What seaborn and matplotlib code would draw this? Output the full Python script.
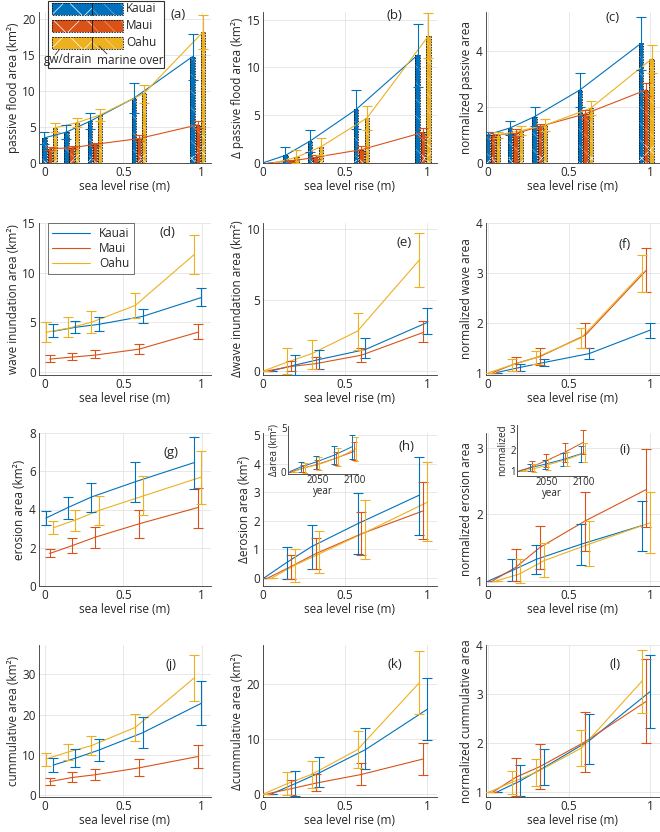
import numpy as np
import pandas as pd
import matplotlib
matplotlib.use("Agg")
import matplotlib.pyplot as plt
from matplotlib.patches import Rectangle
from matplotlib.lines import Line2D
import seaborn as sns

# ---------------- data ----------------
islands = ["Kauai", "Maui", "Oahu"]
slr = [0.03, 0.17, 0.32, 0.60, 0.975]          # sea level rise scenarios (m)
years = [2015, 2030, 2050, 2075, 2100]          # matching years (insets)

# (a) passive flood area (km2)
passive = {"Kauai": [3.5, 4.3, 5.8, 9.0, 14.8], "Maui": [2.0, 2.1, 2.6, 3.4, 5.3], "Oahu": [4.9, 5.6, 6.7, 9.7, 18.2]}
passive_hi = {"Kauai": [4.3, 5.3, 7.0, 11.1, 18.0], "Maui": [2.2, 2.4, 2.8, 3.9, 5.8], "Oahu": [5.5, 6.3, 7.5, 10.9, 20.6]}
passive_lo = {"Kauai": [2.7, 3.3, 4.7, 7.0, 11.5], "Maui": [1.8, 1.9, 2.3, 3.0, 4.8], "Oahu": [4.3, 5.0, 5.9, 8.4, 15.9]}
passive_gw = {"Kauai": [0.3, 0.4, 0.5, 0.8, 1.0], "Maui": [0.5, 0.6, 0.8, 1.0, 1.5], "Oahu": [0.8, 1.2, 1.5, 2.0, 4.2]}
# (b) change in passive flood area
d_passive = {"Kauai": [0, 0.8, 2.3, 5.6, 11.3], "Maui": [0, 0.2, 0.6, 1.4, 3.2], "Oahu": [0, 0.6, 1.7, 4.7, 13.3]}
d_passive_hi = {"Kauai": [0, 1.7, 3.5, 7.6, 14.5], "Maui": [0, 0.3, 0.8, 1.8, 3.7], "Oahu": [0, 1.4, 2.6, 6.0, 15.7]}
d_passive_lo = {"Kauai": [0, 0.0, 1.1, 3.6, 8.0], "Maui": [0, 0.1, 0.4, 1.0, 2.7], "Oahu": [0, 0.0, 0.8, 3.5, 11.0]}
d_passive_gw = {"Kauai": [0, 0.1, 0.2, 0.3, 0.5], "Maui": [0, 0.1, 0.2, 0.5, 1.0], "Oahu": [0, 0.2, 0.4, 0.8, 3.2]}
# (c) normalized passive area
n_passive = {"Kauai": [1.0, 1.25, 1.65, 2.6, 4.25], "Maui": [1.0, 1.05, 1.3, 1.75, 2.6], "Oahu": [1.0, 1.15, 1.35, 1.95, 3.7]}
n_passive_hi = {"Kauai": [1.1, 1.5, 2.0, 3.2, 5.2], "Maui": [1.1, 1.2, 1.4, 1.9, 2.85], "Oahu": [1.1, 1.3, 1.55, 2.2, 4.2]}
n_passive_lo = {"Kauai": [0.9, 1.0, 1.3, 2.0, 3.3], "Maui": [0.9, 0.95, 1.2, 1.6, 2.4], "Oahu": [0.9, 1.0, 1.15, 1.7, 3.2]}
n_passive_gw = {"Kauai": [0.2, 0.2, 0.25, 0.3, 0.25], "Maui": [0.2, 0.2, 0.3, 0.3, 0.8], "Oahu": [0.2, 0.25, 0.3, 0.45, 0.9]}
# (d) wave inundation area
wave = {"Kauai": [4.1, 4.5, 4.8, 5.6, 7.5], "Maui": [1.3, 1.5, 1.7, 2.3, 4.0], "Oahu": [4.0, 4.4, 5.0, 6.7, 11.8]}
wave_hi = {"Kauai": [4.8, 5.1, 5.5, 6.3, 8.5], "Maui": [1.7, 1.9, 2.2, 2.8, 4.8], "Oahu": [5.0, 5.5, 6.1, 8.0, 13.8]}
wave_lo = {"Kauai": [3.5, 3.9, 4.1, 4.9, 6.6], "Maui": [1.0, 1.2, 1.4, 1.8, 3.3], "Oahu": [3.0, 3.5, 3.9, 5.4, 9.9]}
# (e) change in wave inundation area
d_wave = {"Kauai": [0, 0.4, 0.8, 1.5, 3.4], "Maui": [0, 0.3, 0.5, 1.1, 2.7], "Oahu": [0, 0.6, 1.2, 2.8, 7.8]}
d_wave_hi = {"Kauai": [0, 1.1, 1.5, 2.3, 4.4], "Maui": [0, 0.7, 1.0, 1.6, 3.5], "Oahu": [0, 1.6, 2.2, 4.1, 9.7]}
d_wave_lo = {"Kauai": [0, -0.3, 0.1, 0.9, 2.6], "Maui": [0, 0.0, 0.1, 0.6, 2.0], "Oahu": [0, -0.2, 0.1, 1.5, 5.9]}
# (f) normalized wave area
n_wave = {"Kauai": [1.0, 1.1, 1.2, 1.38, 1.85], "Maui": [1.0, 1.18, 1.32, 1.75, 3.05], "Oahu": [1.0, 1.15, 1.3, 1.7, 3.0]}
n_wave_hi = {"Kauai": [1.0, 1.17, 1.27, 1.5, 2.0], "Maui": [1.0, 1.32, 1.5, 2.0, 3.5], "Oahu": [1.0, 1.27, 1.43, 1.9, 3.35]}
n_wave_lo = {"Kauai": [1.0, 1.03, 1.13, 1.27, 1.7], "Maui": [1.0, 1.03, 1.15, 1.5, 2.62], "Oahu": [1.0, 1.03, 1.17, 1.5, 2.62]}
# (g) erosion area
eros = {"Kauai": [3.55, 4.1, 4.65, 5.45, 6.45], "Maui": [1.7, 2.1, 2.55, 3.25, 4.1], "Oahu": [3.05, 3.45, 3.95, 4.7, 5.7]}
eros_hi = {"Kauai": [3.9, 4.65, 5.4, 6.5, 7.8], "Maui": [1.95, 2.5, 3.1, 4.0, 5.1], "Oahu": [3.4, 4.0, 4.7, 5.75, 7.05]}
eros_lo = {"Kauai": [3.2, 3.5, 3.85, 4.4, 5.05], "Maui": [1.5, 1.7, 2.0, 2.5, 3.05], "Oahu": [2.7, 2.9, 3.2, 3.7, 4.3]}
# (h) change in erosion area
d_eros = {"Kauai": [0, 0.55, 1.1, 1.9, 2.9], "Maui": [0, 0.4, 0.85, 1.55, 2.35], "Oahu": [0, 0.45, 0.85, 1.6, 2.65]}
d_eros_hi = {"Kauai": [0, 1.1, 1.85, 2.97, 4.25], "Maui": [0, 0.8, 1.4, 2.3, 3.37], "Oahu": [0, 1.0, 1.65, 2.75, 4.05]}
d_eros_lo = {"Kauai": [0, -0.05, 0.3, 0.85, 1.5], "Maui": [0, -0.05, 0.3, 0.8, 1.37], "Oahu": [0, -0.15, 0.17, 0.67, 1.28]}
# (i) normalized erosion area
n_eros = {"Kauai": [1.0, 1.15, 1.32, 1.55, 1.83], "Maui": [1.0, 1.2, 1.5, 1.9, 2.37], "Oahu": [1.0, 1.1, 1.3, 1.55, 1.87]}
n_eros_hi = {"Kauai": [1.0, 1.32, 1.53, 1.85, 2.2], "Maui": [1.0, 1.47, 1.82, 2.34, 2.98], "Oahu": [1.0, 1.33, 1.56, 1.9, 2.33]}
n_eros_lo = {"Kauai": [1.0, 1.0, 1.1, 1.24, 1.44], "Maui": [1.0, 0.99, 1.17, 1.45, 1.8], "Oahu": [1.0, 0.97, 1.05, 1.22, 1.42]}
# (j) cumulative area
cum = {"Kauai": [7.5, 9.2, 11.2, 15.5, 22.8], "Maui": [3.4, 4.4, 5.1, 6.8, 9.6], "Oahu": [9.0, 10.7, 12.3, 16.8, 29.0]}
cum_hi = {"Kauai": [9.3, 11.5, 14.0, 19.4, 28.4], "Maui": [4.4, 5.7, 6.6, 8.9, 12.5], "Oahu": [10.6, 12.7, 14.8, 20.1, 34.7]}
cum_lo = {"Kauai": [5.7, 7.0, 8.5, 11.8, 17.3], "Maui": [2.5, 3.2, 3.7, 4.8, 6.8], "Oahu": [7.2, 8.7, 9.9, 13.5, 23.3]}
# (k) change in cumulative area
d_cum = {"Kauai": [0, 1.8, 3.8, 8.0, 15.3], "Maui": [0, 0.9, 1.9, 3.5, 6.3], "Oahu": [0, 1.8, 3.5, 8.0, 20.1]}
d_cum_hi = {"Kauai": [0, 4.1, 6.6, 12.0, 21.0], "Maui": [0, 2.4, 3.6, 5.5, 9.2], "Oahu": [0, 3.9, 5.9, 11.3, 26.0]}
d_cum_lo = {"Kauai": [0, -0.5, 1.2, 4.4, 9.8], "Maui": [0, -0.3, 0.4, 1.5, 3.4], "Oahu": [0, -0.3, 1.1, 4.7, 14.5]}
# (l) normalized cumulative area
n_cum = {"Kauai": [1.0, 1.22, 1.5, 2.05, 3.05], "Maui": [1.0, 1.3, 1.52, 2.03, 2.85], "Oahu": [1.0, 1.2, 1.4, 1.9, 3.27]}
n_cum_hi = {"Kauai": [1.0, 1.55, 1.88, 2.6, 3.8], "Maui": [1.0, 1.7, 1.98, 2.63, 3.72], "Oahu": [1.0, 1.43, 1.67, 2.27, 3.9]}
n_cum_lo = {"Kauai": [1.0, 0.93, 1.15, 1.58, 2.3], "Maui": [1.0, 0.92, 1.07, 1.42, 2.0], "Oahu": [1.0, 0.97, 1.12, 1.53, 2.62]}

# ---------------- style ----------------
sns.set_theme(style="whitegrid")
plt.rcParams["font.family"] = ["Open Sans", "DejaVu Sans"]
FS = 8.5
plt.rcParams.update({
    "axes.edgecolor": "#333333", "axes.linewidth": 0.6,
    "grid.color": "#e4e4e4", "grid.linewidth": 0.6,
    "xtick.labelsize": FS, "ytick.labelsize": FS, "axes.labelsize": FS,
    "xtick.color": "#262626", "ytick.color": "#262626", "axes.labelcolor": "#262626",
    "text.color": "#262626", "hatch.linewidth": 0.5,
})
colors = {"Kauai": "#0072BD", "Maui": "#D95319", "Oahu": "#EDB120"}
hatch_cols = {"Kauai": "#6fa6d6", "Maui": "#ee9a72", "Oahu": "#f7d88c"}

bar_off = {"Kauai": -0.033, "Maui": 0.0, "Oahu": 0.033}
off_a = {"Oahu": -0.024, "Maui": 0.0, "Kauai": 0.024}      # rows 2 and 4
off_b = {"Kauai": -0.024, "Maui": 0.0, "Oahu": 0.024}      # row 3
yr_off = {"Kauai": -2.5, "Maui": 0.0, "Oahu": 2.5}
BW = 0.027

W, H = 660, 832
fig = plt.figure(figsize=(W / 100, H / 100), dpi=100)


def add_ax(x0, x1, y0, y1):
    return fig.add_axes([x0 / W, 1 - y1 / H, (x1 - x0) / W, (y1 - y0) / H])


cols = [(38.7, 211), (263, 437), (485.6, 660)]
rows = [(12, 163), (223, 375), (433, 586), (645, 797)]
xlims = [(-0.04, 1.06), (0, 1.06), (-0.015, 1.06)]


def positions(offsets, base=slr):
    return {isl: [b + offsets[isl] for b in base] for isl in islands}


def style(ax, col, ylim, yticks, ylabel, label, lab_xy):
    ax.set_xlim(xlims[col])
    ax.set_ylim(ylim)
    ax.set_xticks([0, 0.5, 1])
    ax.set_xticklabels(["0", "0.5", "1"])
    ax.set_yticks(yticks)
    ax.set_yticklabels([f"{t:g}" for t in yticks])
    ax.set_xlabel("sea level rise (m)", labelpad=1)
    ax.set_ylabel(ylabel, labelpad=2)
    for s in ["top", "right"]:
        ax.spines[s].set_visible(False)
    ax.tick_params(direction="in", length=2, pad=2, width=0.6)
    ax.grid(True)
    ax.set_axisbelow(True)
    ax.text(lab_xy[0], lab_xy[1], label, transform=ax.transAxes, fontsize=9.5,
            ha="center", va="center", zorder=10)


def lines(ax, xpos, vals, lw=0.8):
    df = pd.DataFrame([(xpos[i][k], vals[i][k], i) for i in islands for k in range(len(vals[i]))],
                      columns=["x", "y", "island"])
    sns.lineplot(data=df, x="x", y="y", hue="island", palette=colors, ax=ax, legend=False,
                 linewidth=lw, estimator=None, sort=False, zorder=4)
    ax.set_xlabel("")
    ax.set_ylabel("")


def errs(ax, xpos, vals, lo, hi, idx=None, cap=3.5, lw=0.8):
    for isl in islands:
        x = np.array(xpos[isl], float)
        y = np.array(vals[isl], float)
        l = np.array(lo[isl], float)
        h = np.array(hi[isl], float)
        if idx is not None:
            x, y, l, h = x[idx], y[idx], l[idx], h[idx]
        ax.errorbar(x, y, yerr=[y - l, h - y], fmt="none", ecolor=colors[isl],
                    elinewidth=lw, capsize=cap, capthick=lw, zorder=5)


def bars(ax, xpos, total, gw, idx):
    for isl in islands:
        x = np.array(xpos[isl])[idx]
        t = np.array(total[isl], float)[idx]
        g = np.array(gw[isl], float)[idx]
        c = colors[isl]
        ax.bar(x, g, width=BW, color=c, edgecolor="white", hatch="xx", linewidth=0, zorder=2)
        ax.bar(x, t - g, bottom=g, width=BW, color=c, edgecolor=hatch_cols[isl],
               hatch="\\\\", linewidth=0, zorder=2)
        ax.bar(x, t, width=BW, fill=False, edgecolor="#111111", linewidth=0.6,
               linestyle=(0, (2, 1.2)), zorder=3)


axes = {}
for r, (y0, y1) in enumerate(rows):
    for c, (x0, x1) in enumerate(cols):
        axes[(r, c)] = add_ax(x0, x1, y0, y1)

# ---- row 1: passive flooding (bars) ----
pb = positions(bar_off)
all5 = [0, 1, 2, 3, 4]
last4 = [1, 2, 3, 4]

ax = axes[(0, 0)]
bars(ax, pb, passive, passive_gw, all5)
lines(ax, pb, passive)
errs(ax, pb, passive, passive_lo, passive_hi)
style(ax, 0, (0, 21), [0, 5, 10, 15, 20], "passive flood area (km²)", "(a)", (0.81, 0.985))

ax = axes[(0, 1)]
bars(ax, pb, d_passive, d_passive_gw, last4)
lines(ax, pb, d_passive)
errs(ax, pb, d_passive, d_passive_lo, d_passive_hi, idx=last4)
style(ax, 1, (0, 15.8), [0, 5, 10, 15], "Δ passive flood area (km²)", "(b)", (0.756, 0.975))

ax = axes[(0, 2)]
bars(ax, pb, n_passive, n_passive_gw, all5)
lines(ax, pb, n_passive)
errs(ax, pb, n_passive, n_passive_lo, n_passive_hi)
style(ax, 2, (0, 5.37), [0, 2, 4], "normalized passive area", "(c)", (0.73, 0.965))

# ---- row 2: wave inundation ----
pa = positions(off_a)
ax = axes[(1, 0)]
lines(ax, pa, wave)
errs(ax, pa, wave, wave_lo, wave_hi)
style(ax, 0, (-0.3, 15), [0, 5, 10, 15], "wave inundation area (km²)", "(d)", (0.75, 0.935))
handles = [Line2D([], [], color=colors[i], lw=0.8) for i in islands]
leg = ax.legend(handles, islands, loc="upper left", bbox_to_anchor=(0.054, 1.0), fontsize=FS,
                frameon=True, fancybox=False, edgecolor="#333333", handlelength=3.2,
                borderpad=0.35, labelspacing=0.15, handletextpad=0.8, borderaxespad=0)
leg.get_frame().set_linewidth(0.6)
leg.set_zorder(20)

ax = axes[(1, 1)]
lines(ax, pa, d_wave)
errs(ax, pa, d_wave, d_wave_lo, d_wave_hi)
style(ax, 1, (-0.3, 10.43), [0, 5, 10], "Δwave inundation area (km²)", "(e)", (0.81, 0.87))

ax = axes[(1, 2)]
lines(ax, pa, n_wave)
errs(ax, pa, n_wave, n_wave_lo, n_wave_hi)
style(ax, 2, (0.95, 4.0), [1, 2, 3, 4], "normalized wave area", "(f)", (0.8, 0.857))

# ---- row 3: erosion ----
pe = positions(off_b)
ax = axes[(2, 0)]
lines(ax, pe, eros)
errs(ax, pe, eros, eros_lo, eros_hi)
style(ax, 0, (0, 8), [0, 2, 4, 6, 8], "erosion area (km²)", "(g)", (0.77, 0.87))

ax = axes[(2, 1)]
lines(ax, pe, d_eros)
errs(ax, pe, d_eros, d_eros_lo, d_eros_hi)
style(ax, 1, (-0.28, 5.08), [0, 1, 2, 3, 4, 5], "Δerosion area (km²)", "(h)", (0.826, 0.91))

ax = axes[(2, 2)]
lines(ax, pe, n_eros)
errs(ax, pe, n_eros, n_eros_lo, n_eros_hi)
style(ax, 2, (0.92, 3.22), [1, 2, 3], "normalized erosion area", "(i)", (0.8, 0.89))

# insets vs year
py = positions(yr_off, base=years)


def inset(x0, x1, y0, y1, vals, lo, hi, ylim, yticks, ylabel):
    a = add_ax(x0, x1, y0, y1)
    a.set_facecolor("white")
    lines(a, py, vals, lw=0.7)
    errs(a, py, vals, lo, hi, cap=2.5, lw=0.7)
    a.set_xlim(2010, 2105)
    a.set_ylim(ylim)
    a.set_xticks([2050, 2100])
    a.set_yticks(yticks)
    a.grid(False)
    for s in ["top", "right"]:
        a.spines[s].set_visible(False)
    a.tick_params(direction="in", length=2, pad=1, labelsize=7, width=0.5)
    a.set_xlabel("year", fontsize=7, labelpad=0)
    a.set_ylabel(ylabel, fontsize=7, labelpad=1)
    return a


inset(288, 358, 426, 474, d_eros, d_eros_lo, d_eros_hi, (-0.27, 5.27), [0, 5], "Δarea (km²)")
inset(517, 587, 425, 476, n_eros, n_eros_lo, n_eros_hi, (0.76, 3.2), [1, 2, 3], "normalized")

# ---- row 4: cumulative ----
ax = axes[(3, 0)]
lines(ax, pa, cum)
errs(ax, pa, cum, cum_lo, cum_hi)
style(ax, 0, (-0.4, 37.2), [0, 10, 20, 30], "cummulative area (km²)", "(j)", (0.77, 0.87))

ax = axes[(3, 1)]
lines(ax, pa, d_cum)
errs(ax, pa, d_cum, d_cum_lo, d_cum_hi)
style(ax, 1, (-0.6, 27), [0, 10, 20], "Δcummulative area (km²)", "(k)", (0.756, 0.87))

ax = axes[(3, 2)]
lines(ax, pa, n_cum)
errs(ax, pa, n_cum, n_cum_lo, n_cum_hi)
style(ax, 2, (0.9, 4.0), [1, 2, 3, 4], "normalized cummulative area", "(l)", (0.74, 0.87))

# ---- custom legend for panel (a) ----
lax = fig.add_axes([47 / W, 1 - 68 / H, 117 / W, 68 / H])
lax.set_xlim(0, 117)
lax.set_ylim(68, 0)
lax.axis("off")
lax.add_patch(Rectangle((0.5, 0.5), 116, 67, facecolor="white", edgecolor="#333333", lw=0.8,
                        clip_on=False))
for k, isl in enumerate(islands):
    yy = 3 + k * 16.8
    hh = 12
    lax.add_patch(Rectangle((5, yy), 40, hh, facecolor=colors[isl], edgecolor="white", hatch="x",
                            lw=0, clip_on=False))
    lax.add_patch(Rectangle((45, yy), 31, hh, facecolor=colors[isl], edgecolor=hatch_cols[isl],
                            hatch="\\\\", lw=0, clip_on=False))
    lax.add_patch(Rectangle((5, yy), 71, hh, fill=False, edgecolor="#111111", lw=0.6,
                            ls=(0, (2, 1.2)), clip_on=False))
    lax.plot([45, 45], [yy, yy + hh], color="#111111", lw=0.6, clip_on=False)
    lax.text(79, yy + hh / 2, isl, va="center", ha="left", fontsize=FS)
lax.text(21, 60, "gw/drain", ha="center", va="center", fontsize=FS)
lax.text(83, 60, "marine over", ha="center", va="center", fontsize=FS)
lax.plot([8, 12], [55, 50], color="#333333", lw=0.6, clip_on=False)
lax.plot([60, 52], [54, 46], color="#333333", lw=0.6, clip_on=False)

fig.savefig("out.png", dpi=100)
